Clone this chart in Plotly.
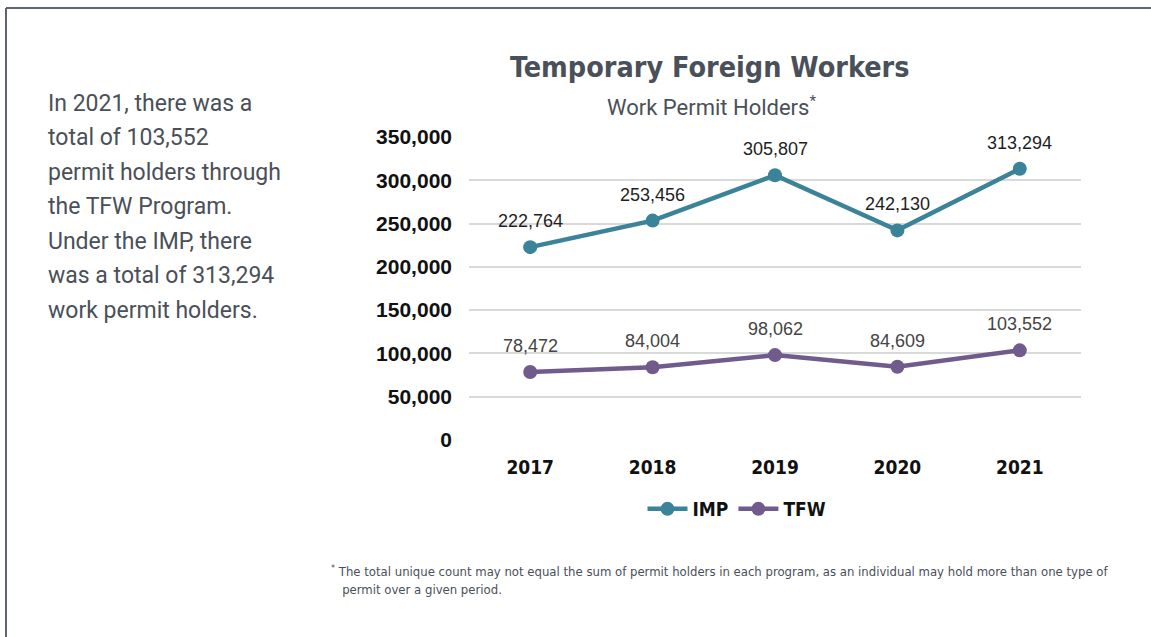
import plotly.graph_objects as go

years = ["2017", "2018", "2019", "2020", "2021"]
imp = [222764, 253456, 305807, 242130, 313294]
tfw = [78472, 84004, 98062, 84609, 103552]
y_ticks = [0, 50000, 100000, 150000, 200000, 250000, 300000, 350000]

title = "Temporary Foreign Workers"
subtitle = "Work Permit Holders<sup>*</sup>"
side_lines = [
    "In 2021, there was a",
    "total of 103,552",
    "permit holders through",
    "the TFW Program.",
    "Under the IMP, there",
    "was a total of 313,294",
    "work permit holders.",
]
footnote_lines = [
    "<sup>*</sup> The total unique count may not equal the sum of permit holders in each program, as an individual may hold more than one type of",
    "   permit over a given period.",
]

W, H = 1151, 637
L, R, T, B = 469, 70, 137, 197
PW, PH = W - L - R, H - T - B

def px(x):
    return (x - L) / PW

def py(y):
    return (H - B - y) / PH

TEAL = "#3a8398"
PURPLE = "#715b8d"
TXT = "#4a5059"
COND = "DejaVu Sans Condensed, sans-serif"

fig = go.Figure()
fig.add_trace(go.Scatter(x=years, y=imp, name="IMP", mode="lines+markers",
                         line=dict(color=TEAL, width=4.5),
                         marker=dict(color=TEAL, size=14), cliponaxis=False))
fig.add_trace(go.Scatter(x=years, y=tfw, name="TFW", mode="lines+markers",
                         line=dict(color=PURPLE, width=4.5),
                         marker=dict(color=PURPLE, size=14), cliponaxis=False))

annotations = []
for series, color in ((imp, "#1e1e1e"), (tfw, "#444444")):
    for i, v in enumerate(series):
        annotations.append(dict(x=i, y=v, xref="x", yref="y", text=f"{v:,}", showarrow=False,
                                xanchor="center", yanchor="middle", yshift=26,
                                font=dict(family="Liberation Sans, Arial, sans-serif", size=18, color=color)))

annotations.append(dict(x=px(710), y=py(67), xref="paper", yref="paper", text=title, showarrow=False,
                        xanchor="center", yanchor="middle",
                        font=dict(family=COND, size=28.5, color=TXT, weight="bold")))
annotations.append(dict(x=px(711), y=py(106), xref="paper", yref="paper", text=subtitle, showarrow=False,
                        xanchor="center", yanchor="middle",
                        font=dict(family="Roboto, sans-serif", size=22, color=TXT)))
for i, line in enumerate(side_lines):
    annotations.append(dict(x=px(46), y=py(103 + i * 34.5), xref="paper", yref="paper", text=line,
                            showarrow=False, xanchor="left", yanchor="middle",
                            font=dict(family="Roboto, sans-serif", size=23, color=TXT)))
for i, line in enumerate(footnote_lines):
    annotations.append(dict(x=px(329), y=py(571 + i * 18), xref="paper", yref="paper", text=line,
                            showarrow=False, xanchor="left", yanchor="middle",
                            font=dict(family=COND, size=13, color=TXT)))

shapes = [
    dict(type="line", xref="paper", yref="paper", x0=px(6), x1=px(W + 5), y0=py(8), y1=py(8),
         line=dict(color="#5f656c", width=2)),
    dict(type="line", xref="paper", yref="paper", x0=px(6), x1=px(6), y0=py(8), y1=py(H + 5),
         line=dict(color="#5f656c", width=2)),
]

fig.update_layout(
    width=W, height=H,
    margin=dict(l=L, r=R, t=T, b=B),
    paper_bgcolor="white", plot_bgcolor="white",
    showlegend=True,
    legend=dict(orientation="h", x=px(737), y=py(509), xanchor="center", yanchor="middle",
                font=dict(family=COND, size=19, color="#111111", weight="bold"),
                itemwidth=40, tracegroupgap=0),
    annotations=annotations,
    shapes=shapes,
    xaxis=dict(type="category", range=[-0.5, 4.5], showgrid=False, zeroline=False, showline=False,
               ticks="", ticklabelstandoff=14,
               tickfont=dict(family=COND, size=19, color="#111111", weight="bold")),
    yaxis=dict(range=[0, 350000], tickvals=y_ticks, tickformat=",d", showgrid=True,
               gridcolor="#d9d9d9", gridwidth=1.5, zeroline=False, showline=False, ticks="",
               ticklabelstandoff=16,
               tickfont=dict(family="Liberation Sans, Arial, sans-serif", size=21, color="#111111", weight="bold")),
)

fig.write_html("out.html", config={"displayModeBar": False},
               post_script="document.body.style.margin='0';document.body.style.overflow='hidden';")
